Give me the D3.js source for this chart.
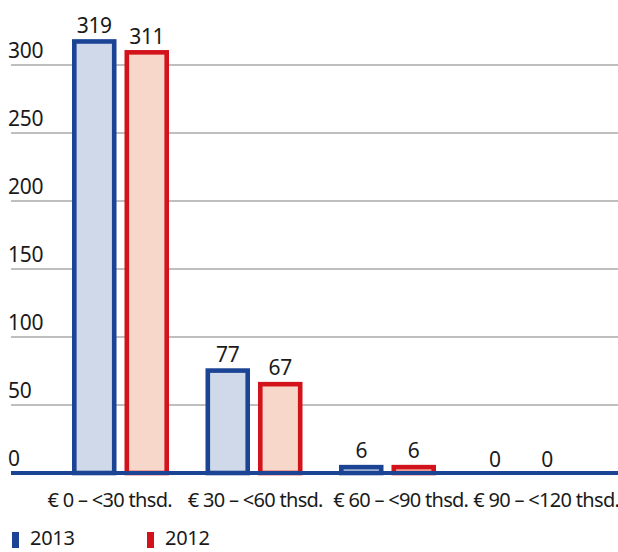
<!DOCTYPE html>
<html><head><meta charset="utf-8">
<script src="https://cdn.jsdelivr.net/npm/d3@7"></script>
<style>body{margin:0;background:#fff;}svg{display:block;}</style>
</head><body>
<svg id="c" width="618" height="552"></svg>
<script>
const categories = ["€ 0 – <30 thsd.", "€ 30 – <60 thsd.", "€ 60 – <90 thsd.", "€ 90 – <120 thsd."];
const series = ["2013", "2012"];
const values2013 = [319, 77, 6, 0];
const values2012 = [311, 67, 6, 0];
const yTicks = [0, 50, 100, 150, 200, 250, 300];

const strokeCol = {"2013": "#1c4495", "2012": "#d3131c"};
const fillCol = {"2013": "#d0d9e9", "2012": "#f7d7c9"};
const font = "'Noto Sans', sans-serif";

const svg = d3.select("#c");
const y = d3.scaleLinear().domain([0, 300]).range([473, 65]);
const x0 = d3.scaleBand().domain(categories).range([53.75, 587.75]).paddingInner(0.2734).paddingOuter(0.1367);
const x1 = d3.scaleBand().domain(series).range([0, x0.bandwidth()]).paddingInner(0.152).paddingOuter(0);
const xl = d3.scaleBand().domain(categories).range([37, 619]);

// gridlines
svg.append("g").selectAll("line").data(yTicks.filter(d => d > 0)).join("line")
  .attr("x1", 11).attr("x2", 618)
  .attr("y1", d => y(d)).attr("y2", d => y(d))
  .attr("stroke", "#aaaaaa").attr("stroke-width", 1.3);

// y labels
svg.append("g").selectAll("text").data(yTicks).join("text")
  .attr("x", 8).attr("y", d => y(d) - 7)
  .attr("font-family", font).attr("font-size", 21).attr("letter-spacing", -0.3).attr("fill", "#1a1a1a")
  .text(d => d);

const data = categories.map((c, i) => ({cat: c, vals: [{s: "2013", v: values2013[i]}, {s: "2012", v: values2012[i]}]}));
const sw = 4.6;
const g = svg.append("g").selectAll("g").data(data).join("g")
  .attr("transform", d => `translate(${x0(d.cat)},0)`);

g.selectAll("rect").data(d => d.vals.filter(e => e.v > 0)).join("rect")
  .attr("x", d => x1(d.s) + sw / 2)
  .attr("y", d => y(d.v) + sw / 2)
  .attr("width", x1.bandwidth() - sw)
  .attr("height", d => Math.max(0, y(0) - y(d.v) - sw / 2))
  .attr("fill", d => fillCol[d.s])
  .attr("stroke", d => strokeCol[d.s])
  .attr("stroke-width", sw);

g.selectAll("text").data(d => d.vals).join("text")
  .attr("x", d => x1(d.s) + x1.bandwidth() / 2)
  .attr("y", d => y(d.v) - 6.5)
  .attr("text-anchor", "middle")
  .attr("font-family", font).attr("font-size", 21).attr("letter-spacing", -0.3).attr("fill", "#1a1a1a")
  .text(d => d.v);

// baseline
svg.append("line").attr("x1", 11).attr("x2", 618).attr("y1", y(0)).attr("y2", y(0))
  .attr("stroke", "#1c4495").attr("stroke-width", 4);

// x labels
svg.append("g").selectAll("text").data(categories).join("text")
  .attr("x", d => xl(d) + xl.bandwidth() / 2)
  .attr("y", 507)
  .attr("text-anchor", "middle")
  .attr("font-family", font).attr("font-size", 20).attr("letter-spacing", -0.7).attr("fill", "#1a1a1a")
  .text(d => d);

// legend
const leg = svg.append("g").selectAll("g").data(series).join("g")
  .attr("transform", (d, i) => `translate(${12 + i * 135},0)`);
leg.append("rect").attr("x", 0).attr("y", 532).attr("width", 7).attr("height", 16)
  .attr("fill", d => strokeCol[d]);
leg.append("text").attr("x", 18).attr("y", 545)
  .attr("font-family", font).attr("font-size", 20).attr("letter-spacing", -0.3).attr("fill", "#1a1a1a")
  .text(d => d);
</script>
</body></html>
